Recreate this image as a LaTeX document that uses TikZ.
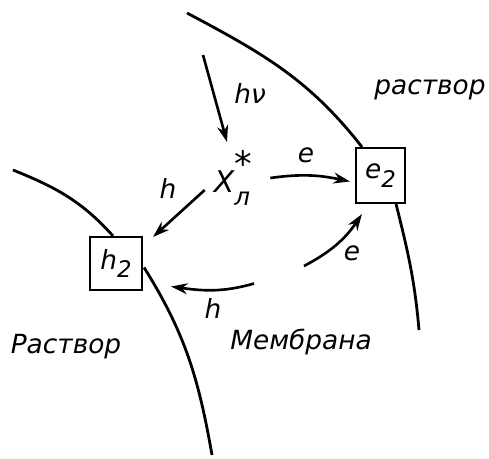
\documentclass[tikz,border=0pt]{standalone}
\usepackage{fontspec}
\setmainfont{DejaVu Sans}
\usetikzlibrary{arrows.meta,calc,positioning}
\tikzset{
  >=Stealth,
  membrane/.style={line width=1.6pt},
  carrier/.style={draw,line width=1.2pt,inner sep=0pt},
  flow/.style={->,line width=1.5pt},
}
\newcommand{\sbs}[1]{\raisebox{-0.6ex}{\fontsize{13}{15}\selectfont #1}}

\begin{document}
\begin{tikzpicture}[x=0.2mm,y=0.2mm,
  every node/.style={font=\fontsize{15}{18}\selectfont\itshape},
  >={Stealth[length=3.3mm,width=2.2mm]}
]
\useasboundingbox (0,0) rectangle (489,458);

\node[carrier,minimum width=9.8mm,minimum height=11mm] (e2) at (380.5,282.5) {e\sbs{2}};
\node[carrier,minimum width=10.4mm,minimum height=10.6mm] (h2) at (116,194.5) {h\sbs{2}};
\node[font=\fontsize{17}{20}\selectfont\itshape] (x) at (232,280)
  {X\rlap{\raisebox{1.0ex}{\fontsize{20}{20}\selectfont*}}\raisebox{-0.8ex}{\fontsize{14}{16}\selectfont л}};

\coordinate (rtop) at (187,445);
\coordinate (rbot) at (419,128);
\coordinate (ltop) at (13,288);
\coordinate (lbot) at (212,3);
\coordinate (light) at (203,403);

\draw[membrane] (rtop) to[out=-28,in=128] ($(e2.north west)+(7,0)$);
\draw[membrane] ($(e2.south east)+(-10,0)$) to[out=-76,in=95] (rbot);
\draw[membrane] (ltop) to[out=-22,in=132] ($(h2.north)+(-3,0)$);
\draw[membrane] ($(h2.east)+(1,-4)$) to[out=-58,in=100] (lbot);

\draw[flow] (light) -- ($(x.north)+(-5,2)$);
\draw[flow] ($(x.east)+(14,0)$) to[out=8,in=168] ($(e2.west)+(-5,-6)$);
\draw[flow] ($(x.west)+(-3,-12)$) -- ($(h2.north east)+(10,-1)$);
\draw[flow] ($(e2.south west)+(-51,-62)$) to[out=28,in=236] ($(e2.south west)+(7,-10)$);
\draw[flow] ($(h2.east)+(111,-20)$) to[out=196,in=-8] ($(h2.east)+(28,-23)$);

\node at (250,365) {hν};
\node at (306,303) {e};
\node at (168,270) {h};
\node at (352,205) {e};
\node at (213,150) {h};
\node at (430,368) {раствор};
\node at (66,111) {Раствор};
\node at (301,116) {Мембрана};
\end{tikzpicture}
\end{document}
